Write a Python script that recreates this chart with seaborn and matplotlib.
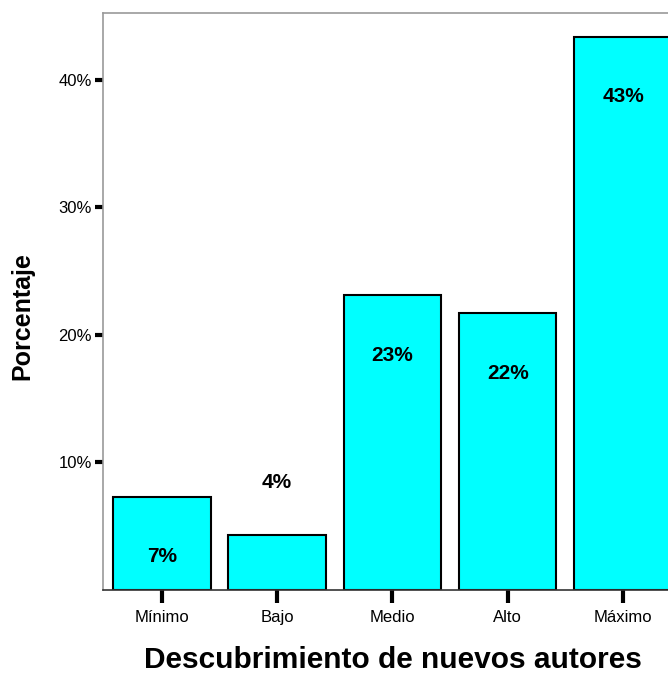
import numpy as np
import pandas as pd
import matplotlib
matplotlib.use('Agg')
import matplotlib.pyplot as plt
import seaborn as sns

categorias = ['Mínimo', 'Bajo', 'Medio', 'Alto', 'Máximo']
porcentajes = [7.3, 4.3, 23.1, 21.7, 43.4]
etiquetas = ['7%', '4%', '23%', '22%', '43%']
yticks = [10, 20, 30, 40]

sns.set_style('white')
plt.rcParams['font.family'] = ['Liberation Sans', 'DejaVu Sans']
plt.rcParams['text.color'] = 'black'

df = pd.DataFrame({'cat': categorias, 'pct': porcentajes})

fig = plt.figure(figsize=(6.68, 6.77), dpi=100)
ax = fig.add_axes([0.1542, 0.1285, 0.8458, 0.8523])

sns.barplot(data=df, x='cat', y='pct', color='#00FFFF', saturation=1,
            edgecolor='black', linewidth=1.5, width=0.845, ax=ax)

# etiquetas de valor: dentro de la barra, o encima si no cabe
for i, (v, lab) in enumerate(zip(porcentajes, etiquetas)):
    dy = -43 if v > 6 else 38
    ax.annotate(lab, (i, v), xytext=(0, dy), textcoords='offset points',
                ha='center', va='center', fontsize=15, fontweight='bold', color='black')

ax.set_xlim(-0.51, 4.39)
ax.set_ylim(0, 45.25)
ax.set_yticks(yticks)
ax.set_yticklabels([f'{t}%' for t in yticks])
ax.tick_params(axis='y', direction='out', length=6, width=3, color='black',
               pad=2, left=True, labelsize=12, labelcolor='black')
ax.tick_params(axis='x', direction='out', length=9.5, width=3, color='black',
               pad=5, bottom=True, labelsize=12, labelcolor='black')

ax.set_xlabel('Descubrimiento de nuevos autores', fontsize=21.5, fontweight='bold',
              color='black')
ax.xaxis.set_label_coords(0.513, -0.097)
ax.set_ylabel('Porcentaje', fontsize=18, fontweight='bold', color='black')
ax.yaxis.set_label_coords(-0.122, 0.475)

for s in ['left', 'top']:
    ax.spines[s].set_color('#999999')
    ax.spines[s].set_linewidth(1.2)
ax.spines['bottom'].set_color('#333333')
ax.spines['bottom'].set_linewidth(1.2)
ax.spines['right'].set_visible(False)

fig.savefig('out.png', dpi=100)
